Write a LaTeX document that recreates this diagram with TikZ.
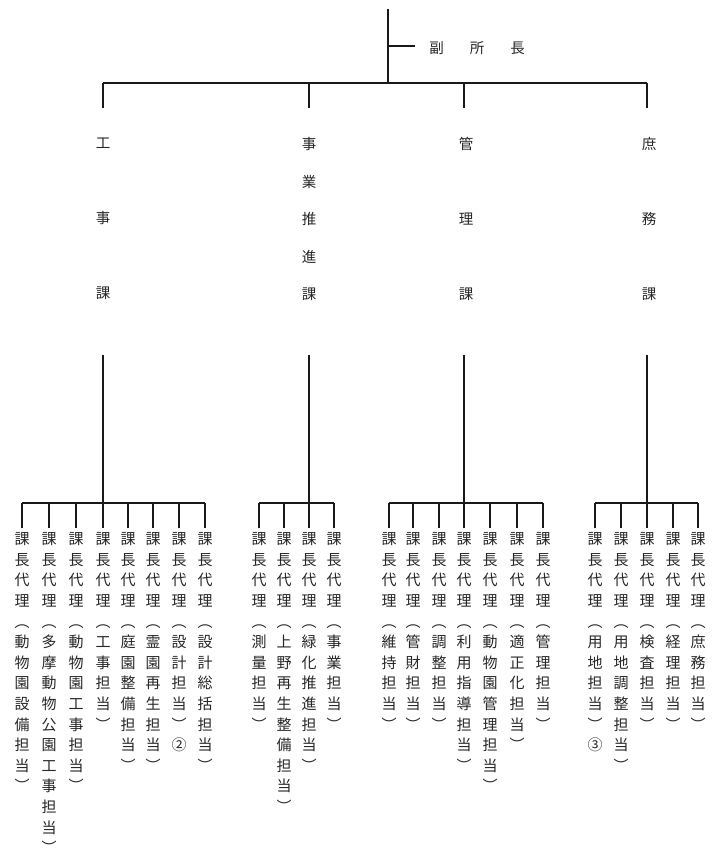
\documentclass[tikz,border=0pt]{standalone}
\usepackage{fontspec}
\newfontfamily\cjk{Noto Sans CJK JP}
\ExplSyntaxOn
\cs_new_protected:Npn \tatecol #1 #2
  {
    \vbox
      {
        \baselineskip=#1 \relax
        \lineskip=0pt \relax
        \lineskiplimit=-\maxdimen \relax
        \tl_map_inline:nn {#2} { \hbox to 16pt { \hss ##1 \hss } }
      }
  }
\ExplSyntaxOff
\tikzset{
  ln/.style={line width=1.2pt, draw=black!90},
  col/.style={inner xsep=0pt, inner ysep=4.5pt, anchor=north, font=\cjk\fontsize{15}{15}\selectfont, text=black!85},
  dept/.style={inner sep=0pt, anchor=north, font=\cjk\fontsize{14.5}{14.5}\selectfont, text=black!85},
}
\begin{document}
\begin{tikzpicture}[x=1pt,y=-1pt]
\useasboundingbox (0,0) rectangle (720,858);

% top
\coordinate (top) at (388,9);
\coordinate (j0) at (388,83);
\coordinate (tick) at (415,46);
\node[inner sep=0pt, font=\cjk\fontsize{14.5}{14.5}\selectfont, text=black!85] (fuku) at (477,48) {副\hspace{26pt}所\hspace{26pt}長};
\draw[ln] (top) -- (j0);
\draw[ln] (top |- tick) -- (tick);

% departments
\coordinate (t1) at (103,83);
\coordinate (t2) at (309,83);
\coordinate (t3) at (464,83);
\coordinate (t4) at (647,83);
\draw[ln] (t1) -- (t4);
\foreach \i in {1,2,3,4} {
  \draw[ln] (t\i) -- ++(0,25);
}
\node[dept] (d1) at (103,137.5) {\tatecol{75pt}{工事課}};
\node[dept] (d2) at (309,137.5) {\tatecol{37.5pt}{事業推進課}};
\node[dept] (d3) at (466,137.5) {\tatecol{75pt}{管理課}};
\node[dept] (d4) at (649,137.5) {\tatecol{75pt}{庶務課}};

\coordinate (u1) at (103,355);
\coordinate (u2) at (309,355);
\coordinate (u3) at (464,355);
\coordinate (u4) at (647,355);
\coordinate (b1) at (103,503);
\coordinate (b2) at (309,503);
\coordinate (b3) at (464,503);
\coordinate (b4) at (647,503);
\foreach \i in {1,2,3,4} {
  \draw[ln] (u\i) -- (b\i);
}

% group 1
\node[col] (a1) at (22,528) {\tatecol{20.6pt}{課長代理︵動物園設備担当︶}};
\node[col] (a2) at (49,528) {\tatecol{20.6pt}{課長代理︵多摩動物公園工事担当︶}};
\node[col] (a3) at (76,528) {\tatecol{20.6pt}{課長代理︵動物園工事担当︶}};
\node[col] (a4) at (103,528) {\tatecol{20.6pt}{課長代理︵工事担当︶}};
\node[col] (a5) at (128,528) {\tatecol{20.6pt}{課長代理︵庭園整備担当︶}};
\node[col] (a6) at (153,528) {\tatecol{20.6pt}{課長代理︵霊園再生担当︶}};
\node[col] (a7) at (179,528) {\tatecol{20.6pt}{課長代理︵設計担当︶②}};
\node[col] (a8) at (205,528) {\tatecol{20.6pt}{課長代理︵設計総括担当︶}};
\draw[ln] (a1.north |- b1) -- (a8.north |- b1);
\foreach \i in {1,...,8} { \draw[ln] (a\i.north) -- (a\i.north |- b1); }

% group 2
\node[col] (e1) at (259,528) {\tatecol{20.6pt}{課長代理︵測量担当︶}};
\node[col] (e2) at (284,528) {\tatecol{20.6pt}{課長代理︵上野再生整備担当︶}};
\node[col] (e3) at (309,528) {\tatecol{20.6pt}{課長代理︵緑化推進担当︶}};
\node[col] (e4) at (334,528) {\tatecol{20.6pt}{課長代理︵事業担当︶}};
\draw[ln] (e1.north |- b2) -- (e4.north |- b2);
\foreach \i in {1,...,4} { \draw[ln] (e\i.north) -- (e\i.north |- b2); }

% group 3
\node[col] (k1) at (389,528) {\tatecol{20.6pt}{課長代理︵維持担当︶}};
\node[col] (k2) at (413,528) {\tatecol{20.6pt}{課長代理︵管財担当︶}};
\node[col] (k3) at (439,528) {\tatecol{20.6pt}{課長代理︵調整担当︶}};
\node[col] (k4) at (464,528) {\tatecol{20.6pt}{課長代理︵利用指導担当︶}};
\node[col] (k5) at (490,528) {\tatecol{20.6pt}{課長代理︵動物園管理担当︶}};
\node[col] (k6) at (517,528) {\tatecol{20.6pt}{課長代理︵適正化担当︶}};
\node[col] (k7) at (543,528) {\tatecol{20.6pt}{課長代理︵管理担当︶}};
\draw[ln] (k1.north |- b3) -- (k7.north |- b3);
\foreach \i in {1,...,7} { \draw[ln] (k\i.north) -- (k\i.north |- b3); }

% group 4
\node[col] (s1) at (595,528) {\tatecol{20.6pt}{課長代理︵用地担当︶③}};
\node[col] (s2) at (621,528) {\tatecol{20.6pt}{課長代理︵用地調整担当︶}};
\node[col] (s3) at (647,528) {\tatecol{20.6pt}{課長代理︵検査担当︶}};
\node[col] (s4) at (673,528) {\tatecol{20.6pt}{課長代理︵経理担当︶}};
\node[col] (s5) at (698,528) {\tatecol{20.6pt}{課長代理︵庶務担当︶}};
\draw[ln] (s1.north |- b4) -- (s5.north |- b4);
\foreach \i in {1,...,5} { \draw[ln] (s\i.north) -- (s\i.north |- b4); }
\end{tikzpicture}
\end{document}
